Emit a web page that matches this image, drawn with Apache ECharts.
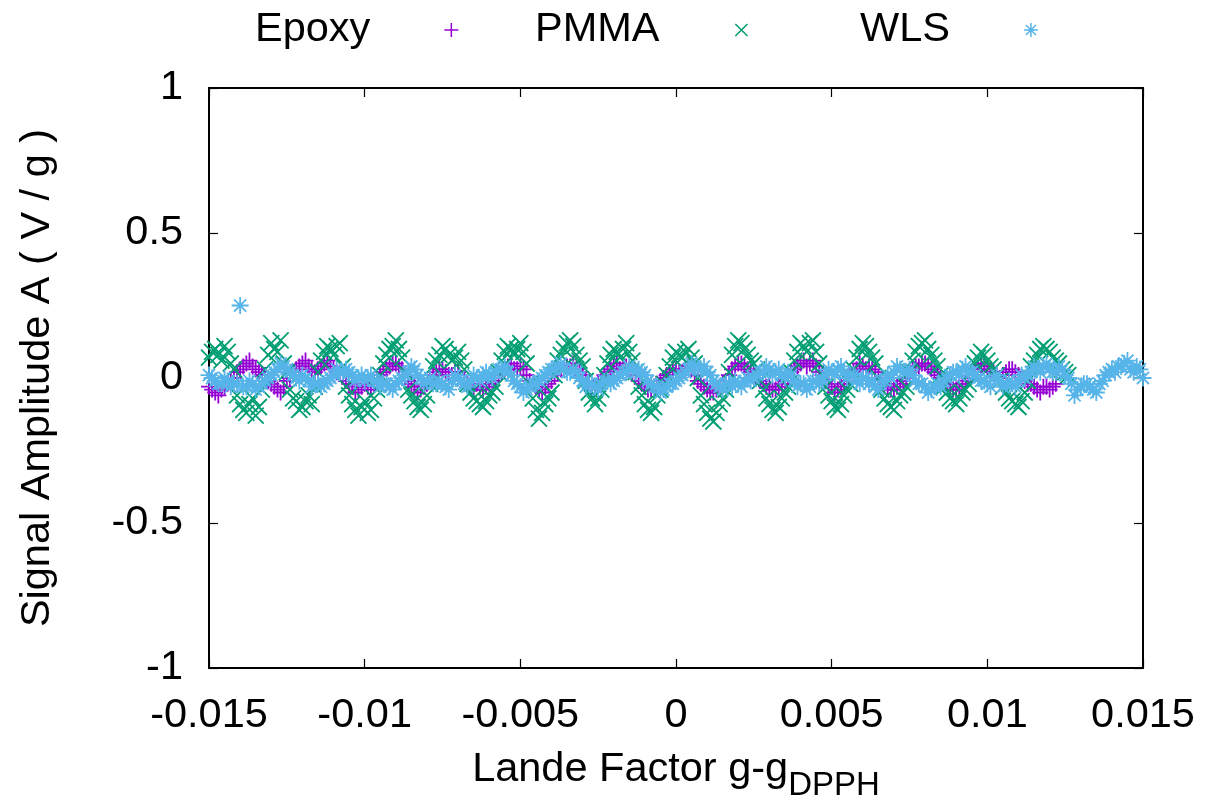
<!DOCTYPE html>
<html>
<head>
<meta charset="utf-8">
<script src="https://cdn.jsdelivr.net/npm/echarts@6/dist/echarts.min.js"></script>
<style>
html,body{margin:0;padding:0;background:#fff;}
#chart{width:1216px;height:799px;}
</style>
</head>
<body>
<div id="chart"></div>
<script>
// Lande factor g - g_DPPH sample grid (main points)
const gridX = [
-0.0150,-0.0148,-0.0146,-0.0144,-0.0142,-0.0140,-0.0138,-0.0136,-0.0134,-0.0132,
-0.0130,-0.0128,-0.0126,-0.0124,-0.0122,-0.0120,-0.0118,-0.0116,-0.0114,-0.0112,
-0.0110,-0.0108,-0.0106,-0.0104,-0.0102,-0.0100,-0.0098,-0.0096,-0.0094,-0.0092,
-0.0090,-0.0088,-0.0086,-0.0084,-0.0082,-0.0080,-0.0078,-0.0076,-0.0074,-0.0072,
-0.0070,-0.0068,-0.0066,-0.0064,-0.0062,-0.0060,-0.0058,-0.0056,-0.0054,-0.0052,
-0.0050,-0.0048,-0.0046,-0.0044,-0.0042,-0.0040,-0.0038,-0.0036,-0.0034,-0.0032,
-0.0030,-0.0028,-0.0026,-0.0024,-0.0022,-0.0020,-0.0018,-0.0016,-0.0014,-0.0012,
-0.0010,-0.0008,-0.0006,-0.0004,-0.0002,0.0000,0.0002,0.0004,0.0006,0.0008,
0.0010,0.0012,0.0014,0.0016,0.0018,0.0020,0.0022,0.0024,0.0026,0.0028,
0.0030,0.0032,0.0034,0.0036,0.0038,0.0040,0.0042,0.0044,0.0046,0.0048,
0.0050,0.0052,0.0054,0.0056,0.0058,0.0060,0.0062,0.0064,0.0066,0.0068,
0.0070,0.0072,0.0074,0.0076,0.0078,0.0080,0.0082,0.0084,0.0086,0.0088,
0.0090,0.0092,0.0094,0.0096,0.0098,0.0100,0.0102,0.0104,0.0106,0.0108,
0.0110,0.0112,0.0114,0.0116,0.0118,0.0120,0.0122,0.0124,0.0126,0.0128,
0.0130,0.0132,0.0134,0.0136,0.0138,0.0140,0.0142,0.0144,0.0146,0.0148,
0.0150
];
// intermediate sample points
const gridXMid = [
-0.0149,-0.0147,-0.0145,-0.0143,-0.0141,-0.0139,-0.0137,-0.0135,-0.0133,-0.0131,
-0.0129,-0.0127,-0.0125,-0.0123,-0.0121,-0.0119,-0.0117,-0.0115,-0.0113,-0.0111,
-0.0109,-0.0107,-0.0105,-0.0103,-0.0101,-0.0099,-0.0097,-0.0095,-0.0093,-0.0091,
-0.0089,-0.0087,-0.0085,-0.0083,-0.0081,-0.0079,-0.0077,-0.0075,-0.0073,-0.0071,
-0.0069,-0.0067,-0.0065,-0.0063,-0.0061,-0.0059,-0.0057,-0.0055,-0.0053,-0.0051,
-0.0049,-0.0047,-0.0045,-0.0043,-0.0041,-0.0039,-0.0037,-0.0035,-0.0033,-0.0031,
-0.0029,-0.0027,-0.0025,-0.0023,-0.0021,-0.0019,-0.0017,-0.0015,-0.0013,-0.0011,
-0.0009,-0.0007,-0.0005,-0.0003,-0.0001,0.0001,0.0003,0.0005,0.0007,0.0009,
0.0011,0.0013,0.0015,0.0017,0.0019,0.0021,0.0023,0.0025,0.0027,0.0029,
0.0031,0.0033,0.0035,0.0037,0.0039,0.0041,0.0043,0.0045,0.0047,0.0049,
0.0051,0.0053,0.0055,0.0057,0.0059,0.0061,0.0063,0.0065,0.0067,0.0069,
0.0071,0.0073,0.0075,0.0077,0.0079,0.0081,0.0083,0.0085,0.0087,0.0089,
0.0091,0.0093,0.0095,0.0097,0.0099,0.0101,0.0103,0.0105,0.0107,0.0109,
0.0111,0.0113,0.0115,0.0117,0.0119,0.0121,0.0123,0.0125,0.0127,0.0129,
0.0131,0.0133,0.0135,0.0137,0.0139,0.0141,0.0143,0.0145,0.0147,0.0149
];

// Signal amplitude A (V/g) — Epoxy
const epoxyA = [
-0.03,-0.05,-0.04,-0.02,0.00,0.03,0.05,0.04,0.02,0.01,
-0.02,-0.04,-0.03,0.00,0.03,0.05,0.04,0.02,0.04,0.06,
0.03,0.02,-0.01,-0.03,-0.04,-0.02,-0.04,-0.01,0.02,0.04,
0.05,0.03,-0.01,-0.03,-0.04,-0.02,0.01,0.03,0.02,0.01,
0.02,-0.01,-0.03,-0.02,-0.04,-0.02,0.00,0.02,0.04,0.03,
0.04,0.01,-0.02,-0.04,-0.03,-0.01,0.02,0.03,0.04,0.03,
0.01,-0.02,-0.03,-0.01,0.02,0.04,0.03,0.04,0.02,-0.01,
-0.03,-0.04,-0.02,0.00,0.02,0.03,0.02,0.04,0.01,-0.02,
-0.04,-0.05,-0.03,-0.01,0.03,0.05,0.04,0.02,0.01,-0.02,
-0.03,-0.04,-0.02,0.00,0.03,0.05,0.04,0.06,0.02,-0.01,
-0.03,-0.04,-0.02,0.01,0.03,0.04,0.04,0.02,-0.01,-0.03,
-0.04,-0.02,0.00,0.03,0.04,0.05,0.03,0.01,-0.01,-0.03,
-0.04,-0.02,0.00,0.02,0.04,0.03,0.02,0.00,0.02,0.03,
0.01,-0.01,-0.02,-0.04,-0.03,-0.04,-0.02
];
const epoxyMid = [
-0.04,-0.06,-0.03,-0.01,0.02,0.04,0.06,0.03,0.01,-0.01,
-0.03,-0.05,-0.01,0.02,0.04,0.06,0.03,0.03,0.05,0.04,
0.02,0.01,-0.02,-0.05,-0.03,-0.03,-0.02,0.01,0.03,0.05,
0.04,0.01,-0.02,-0.05,-0.03,0.00,0.02,0.03,0.01,0.02,
0.00,-0.02,-0.04,-0.03,-0.03,-0.01,0.01,0.03,0.05,0.03,
0.03,-0.01,-0.03,-0.05,-0.02,0.01,0.03,0.04,0.05,0.02,
-0.01,-0.04,-0.02,0.01,0.03,0.05,0.03,0.03,0.01,-0.02,
-0.04,-0.03,-0.01,0.01,0.03,0.02,0.03,0.03,-0.01,-0.03,
-0.05,-0.04,-0.02,0.01,0.04,0.05,0.03,0.01,-0.01,-0.03,
-0.04,-0.03,-0.01,0.02,0.04,0.06,0.05,0.04,0.01,-0.02,
-0.05,-0.03,-0.01,0.02,0.05,0.03,0.03,0.00,-0.02,-0.04,
-0.03,-0.01,0.02,0.04,0.05,0.04,0.02,0.00,-0.02,-0.04,
-0.03,-0.01,0.01,0.03,0.05,0.02,0.01,0.01,0.03,0.02,
0.00,-0.02,-0.03,-0.05,-0.03,-0.03
];

// PMMA
const pmmaA = [
0.07,0.10,0.06,0.09,0.03,-0.09,-0.12,-0.07,-0.10,0.03,
0.12,0.09,0.05,-0.04,-0.08,-0.10,-0.06,-0.03,0.06,0.11,
0.08,0.12,-0.03,-0.09,-0.13,-0.08,-0.11,-0.04,0.05,0.10,
0.13,0.07,-0.04,-0.08,-0.11,-0.06,0.04,0.08,0.10,0.06,
0.09,0.03,-0.05,-0.08,-0.10,-0.06,-0.03,0.06,0.11,0.08,
0.12,0.05,-0.07,-0.14,-0.09,-0.05,0.06,0.10,0.13,0.08,
0.04,-0.05,-0.09,-0.04,0.05,0.10,0.07,0.12,0.06,-0.03,
-0.09,-0.12,-0.06,-0.02,0.04,0.09,0.07,0.10,0.05,-0.06,
-0.12,-0.15,-0.09,-0.04,0.08,0.13,0.10,0.06,0.03,-0.04,
-0.09,-0.12,-0.07,-0.03,0.06,0.12,0.09,0.13,0.05,-0.03,
-0.08,-0.11,-0.06,-0.02,0.07,0.12,0.09,0.05,-0.04,-0.09,
-0.11,-0.06,-0.03,0.06,0.11,0.13,0.08,0.04,-0.03,-0.07,
-0.09,-0.05,-0.02,0.05,0.09,0.06,0.03,-0.01,-0.05,-0.08,
-0.10,-0.05,0.04,0.08,0.11,0.09,0.06,0.03,0.01
];
const pmmaMid = [
0.09,0.08,0.11,0.05,-0.06,-0.11,-0.09,-0.13,-0.04,0.08,
0.10,0.13,0.02,-0.07,-0.11,-0.08,-0.09,0.02,0.09,0.10,
0.11,0.04,-0.06,-0.11,-0.10,-0.12,-0.07,0.01,0.08,0.11,
0.10,0.02,-0.06,-0.10,-0.09,-0.02,0.06,0.11,0.08,0.07,
0.06,-0.02,-0.07,-0.09,-0.08,-0.05,0.02,0.09,0.10,0.10,
0.09,-0.02,-0.11,-0.12,-0.07,0.01,0.08,0.12,0.11,0.06,
-0.01,-0.07,-0.07,0.01,0.08,0.09,0.10,0.09,0.02,-0.06,
-0.11,-0.10,-0.04,0.01,0.07,0.08,0.09,0.07,0.00,-0.09,
-0.14,-0.12,-0.07,0.02,0.11,0.12,0.08,0.05,-0.01,-0.07,
-0.11,-0.10,-0.05,0.02,0.09,0.11,0.12,0.09,0.01,-0.06,
-0.10,-0.09,-0.04,0.03,0.10,0.11,0.07,0.00,-0.07,-0.10,
-0.08,-0.05,0.02,0.09,0.12,0.10,0.06,0.01,-0.05,-0.08,
-0.07,-0.04,0.02,0.07,0.08,0.04,0.01,-0.03,-0.07,-0.09,
-0.08,-0.01,0.06,0.10,0.10,0.07,0.05,0.02
];

// WLS
const wlsA = [
0.01,-0.01,-0.02,-0.01,-0.02,0.25,-0.03,-0.02,-0.03,-0.01,
0.01,0.03,0.04,0.02,0.00,0.01,-0.01,-0.02,-0.03,-0.01,
0.01,0.02,0.03,0.01,0.00,-0.01,0.01,-0.01,-0.02,-0.03,
-0.02,0.00,0.02,0.03,0.00,-0.01,-0.02,-0.01,-0.03,-0.01,
0.00,-0.02,-0.01,0.00,0.01,0.01,0.02,0.03,0.02,-0.01,
-0.03,-0.04,-0.02,-0.01,0.01,0.03,0.04,0.03,0.02,0.02,
-0.01,-0.02,-0.03,-0.02,-0.01,-0.01,0.01,0.02,0.03,0.03,
0.01,-0.02,-0.03,-0.04,-0.02,-0.01,0.01,0.03,0.04,0.03,
0.02,-0.01,-0.03,-0.02,-0.03,-0.02,-0.01,-0.01,0.01,0.02,
0.03,0.02,0.01,0.02,-0.01,-0.02,-0.04,-0.01,-0.02,0.01,
0.02,0.03,0.02,0.01,-0.01,0.00,-0.02,-0.03,-0.01,0.01,
0.02,0.03,0.02,0.01,-0.02,-0.03,-0.04,-0.02,-0.01,0.01,
0.02,0.03,0.02,0.01,-0.01,-0.02,0.00,-0.01,-0.02,-0.02,
-0.01,0.00,0.02,0.03,0.04,0.03,0.02,0.03,0.00,-0.06,
-0.03,-0.02,-0.04,-0.02,0.01,0.03,0.04,0.05,0.03,0.04,
0.00
];
const wlsMid = [
0.00,-0.02,0.00,-0.03,-0.02,-0.03,-0.01,-0.04,-0.02,0.00,
0.02,0.05,0.03,0.01,-0.01,0.00,-0.03,-0.02,-0.02,0.00,
0.03,0.02,0.02,-0.01,0.01,0.00,-0.01,-0.03,-0.02,-0.04,
-0.01,0.01,0.04,0.01,-0.02,0.00,-0.02,-0.02,-0.04,0.01,
-0.01,-0.03,0.01,-0.01,0.02,0.00,0.03,0.04,0.01,-0.02,
-0.05,-0.03,-0.02,0.00,0.02,0.03,0.05,0.02,0.03,0.00,
-0.03,-0.02,-0.04,-0.01,-0.02,0.00,0.02,0.04,0.02,0.02,
-0.01,-0.03,-0.05,-0.03,-0.02,0.00,0.02,0.05,0.03,0.04,
0.01,-0.02,-0.04,-0.02,-0.01,-0.03,0.00,0.00,0.02,0.04,
0.01,0.03,0.00,0.01,-0.03,-0.02,-0.03,-0.01,-0.01,0.03,
0.01,0.04,0.00,0.01,-0.02,0.00,-0.01,-0.04,-0.01,0.00,
0.04,0.02,0.03,-0.01,-0.02,-0.05,-0.03,-0.03,0.00,0.02,
0.01,0.04,0.02,0.00,-0.01,-0.03,0.01,-0.03,-0.01,-0.03,
0.01,0.01,0.04,0.02,0.05,0.02,0.04,0.01,-0.02,-0.04,
-0.02,-0.03,-0.05,-0.01,0.02,0.02,0.04,0.06,0.02,0.03
];

const seriesNames = ['Epoxy', 'PMMA', 'WLS'];
const xTicks = ['-0.015', '-0.01', '-0.005', '0', '0.005', '0.01', '0.015'];
const yTicks = ['-1', '-0.5', '0', '0.5', '1'];

const colors = ['#9400D3', '#009E73', '#56B4E9'];
const FONT = '"Liberation Sans", Arial, Helvetica, sans-serif';
const FS = 41.5;

const symPlus = 'path://M0,7L14,7M7,0L7,14';
const symCross = 'path://M0,0L12,12M12,0L0,12';
const symStar = 'path://M0,7L14,7M7,0L7,14M2,2L12,12M12,2L2,12';
// legend icons: invisible zero-length anchor on the left, glyph on the right
const legPlus = 'path://M0,7L0,7M69,7L83,7M76,0L76,14';
const legCross = 'path://M0,7L0,7M70,1L82,13M82,1L70,13';
const legStar = 'path://M0,7L0,7M69,7L83,7M76,0L76,14M71,2L81,12M81,2L71,12';

function pairs(xs, vals) {
  const out = [];
  for (let i = 0; i < vals.length; i++) out.push([xs[i], vals[i]]);
  return out;
}

function fmtNum(v, d) {
  return String(parseFloat(v.toFixed(d)));
}

const chart = echarts.init(document.getElementById('chart'), null, {renderer: 'canvas'});

function mkLegend(idx, left, icon) {
  return {
    show: true,
    left: left,
    top: 4,
    align: 'right',
    itemWidth: 83,
    itemHeight: 14,
    itemGap: 0,
    selectedMode: false,
    data: [{
      name: seriesNames[idx],
      icon: icon,
      itemStyle: {color: colors[idx], borderColor: colors[idx], borderWidth: 1.5}
    }],
    textStyle: {fontFamily: FONT, fontSize: FS, color: '#000'}
  };
}

const axisLineStyle = {color: '#000', width: 2};
const tickStyle = {show: true, inside: true, length: 9, lineStyle: {color: '#000', width: 1.2}};

const option = {
  animation: false,
  backgroundColor: '#fff',
  legend: [
    mkLegend(0, 250, legPlus),
    mkLegend(1, 530, legCross),
    mkLegend(2, 855, legStar)
  ],
  grid: {left: 209, right: 73, top: 88, bottom: 131, containLabel: false, outerBoundsMode: 'none'},
  xAxis: [{
    type: 'value',
    position: 'bottom',
    min: -0.015, max: 0.015, interval: 0.005,
    axisLine: {show: true, onZero: false, lineStyle: axisLineStyle},
    axisTick: tickStyle,
    axisLabel: {
      show: true, margin: 27, fontFamily: FONT, fontSize: FS, color: '#000',
      formatter: function (v) { const s = fmtNum(v, 4); return xTicks.indexOf(s) >= 0 ? s : ''; }
    },
    splitLine: {show: false},
    name: '{a|Lande Factor g-g}{b|DPPH}',
    nameLocation: 'middle',
    nameGap: 81,
    nameTextStyle: {
      rich: {
        a: {fontFamily: FONT, fontSize: FS, color: '#000', lineHeight: 48, verticalAlign: 'top'},
        b: {fontFamily: FONT, fontSize: 33, color: '#000', lineHeight: 48, verticalAlign: 'top', padding: [20, 0, 0, 0]}
      }
    }
  }, {
    type: 'value',
    position: 'top',
    min: -0.015, max: 0.015, interval: 0.005,
    axisLine: {show: true, onZero: false, lineStyle: axisLineStyle},
    axisTick: tickStyle,
    axisLabel: {show: false},
    splitLine: {show: false}
  }],
  yAxis: [{
    type: 'value',
    position: 'left',
    min: -1, max: 1, interval: 0.5,
    axisLine: {show: true, onZero: false, lineStyle: axisLineStyle},
    axisTick: tickStyle,
    axisLabel: {show: true, margin: 26, fontFamily: FONT, fontSize: FS, color: '#000',
      formatter: function (v) { const s = fmtNum(v, 2); return yTicks.indexOf(s) >= 0 ? s : ''; }},
    splitLine: {show: false},
    name: 'Signal Amplitude A ( V / g )',
    nameLocation: 'middle',
    nameGap: 150,
    nameTextStyle: {fontFamily: FONT, fontSize: FS, color: '#000'}
  }, {
    type: 'value',
    position: 'right',
    min: -1, max: 1, interval: 0.5,
    axisLine: {show: true, onZero: false, lineStyle: axisLineStyle},
    axisTick: tickStyle,
    axisLabel: {show: false},
    splitLine: {show: false}
  }],
  series: [{
    name: seriesNames[0],
    type: 'scatter',
    xAxisIndex: 0, yAxisIndex: 0,
    symbol: symPlus,
    symbolSize: 16,
    itemStyle: {color: colors[0], borderColor: colors[0], borderWidth: 1.8, opacity: 1},
    emphasis: {disabled: true},
    data: pairs(gridX, epoxyA).concat(pairs(gridXMid, epoxyMid))
  }, {
    name: seriesNames[1],
    type: 'scatter',
    xAxisIndex: 0, yAxisIndex: 0,
    symbol: symCross,
    symbolSize: 16,
    itemStyle: {color: colors[1], borderColor: colors[1], borderWidth: 1.8, opacity: 1},
    emphasis: {disabled: true},
    data: pairs(gridX, pmmaA).concat(pairs(gridXMid, pmmaMid))
  }, {
    name: seriesNames[2],
    type: 'scatter',
    xAxisIndex: 0, yAxisIndex: 0,
    symbol: symStar,
    symbolSize: 17,
    itemStyle: {color: colors[2], borderColor: colors[2], borderWidth: 1.8, opacity: 1},
    emphasis: {disabled: true},
    data: pairs(gridX, wlsA).concat(pairs(gridXMid, wlsMid))
  }]
};

chart.setOption(option);
</script>
</body>
</html>
